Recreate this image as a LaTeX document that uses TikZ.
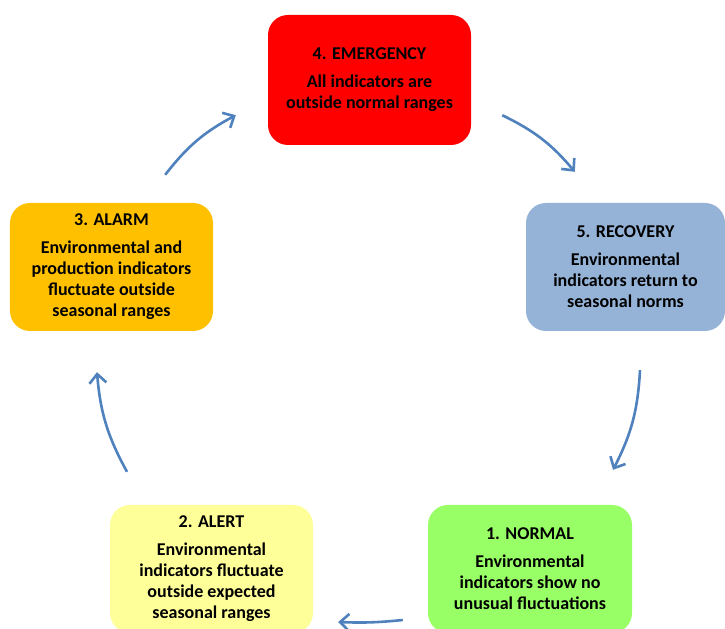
\documentclass[tikz,border=0pt]{standalone}
\usepackage{fontspec}
\setmainfont{Carlito}
\usetikzlibrary{positioning}
\usetikzlibrary{arrows.meta}
\definecolor{emergred}{HTML}{FF0000}
\definecolor{recovblue}{HTML}{95B3D7}
\definecolor{normgreen}{HTML}{99FF66}
\definecolor{alertyellow}{HTML}{FFFF99}
\definecolor{alarmorange}{HTML}{FFC000}
\definecolor{arrowblue}{HTML}{4F81BD}

\begin{document}
\begin{tikzpicture}[x=1bp, y=1bp,
                    stage/.style={rounded corners=20bp, minimum width=203bp,
                        minimum height=128bp, inner sep=0pt, align=center,
                        font=\fontsize{18bp}{21bp}\selectfont\bfseries},
                    cyc/.style={draw=arrowblue, line width=2.6bp,
                        -{Straight Barb[length=9bp,width=17bp]}}]
    \useasboundingbox (0,0) rectangle (725,629);

    \node[stage, fill=emergred, minimum height=130bp] (emergency) at (369.5,549)
        {4. EMERGENCY\\[7bp]All indicators are\\outside normal ranges};
    \node[stage, fill=recovblue, minimum width=199bp] (recovery) at (625.5,362)
        {5. RECOVERY\\[7bp]Environmental\\indicators return to\\seasonal norms};
    \node[stage, fill=normgreen, minimum width=204bp] (normal) at (530,60)
        {1. NORMAL\\[7bp]Environmental\\indicators show no\\unusual fluctuations};
    \node[stage, fill=alertyellow] (alert) at (211.5,60)
        {2. ALERT\\[7bp]Environmental\\indicators fluctuate\\outside expected\\seasonal ranges};
    \node[stage, fill=alarmorange] (alarm) at (111.5,362)
        {3. ALARM\\[7bp]Environmental and\\production indicators\\fluctuate outside\\seasonal ranges};

    % cycle arrows
    \draw[cyc] ([shift={(31,30)}]emergency.south east) to[bend left=12]
        ([shift={(49,31)}]recovery.north west);
    \draw[cyc] ([shift={(14.5,-39)}]recovery.south) to[bend left=12]
        ([shift={(83,35)}]normal.north);
    \draw[cyc] ([shift={(-25,-51)}]normal.west) to[bend left=4]
        ([shift={(25,-53)}]alert.east);
    \draw[cyc] ([shift={(-84.5,33)}]alert.north) to[bend left=12]
        ([shift={(-14.5,-41)}]alarm.south);
    \draw[cyc] ([shift={(-48,28)}]alarm.north east) to[bend left=12]
        ([shift={(-32,30)}]emergency.south west);
\end{tikzpicture}
\end{document}
